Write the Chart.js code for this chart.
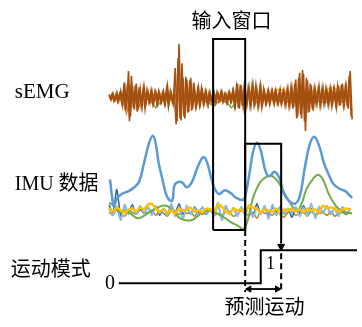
<!DOCTYPE html>
<html><head><meta charset="utf-8">
<script src="https://cdn.jsdelivr.net/npm/chart.js@4"></script>
<style>html,body{margin:0;padding:0;background:#fff}canvas{display:block}</style>
</head><body>
<canvas id="c" width="362" height="327"></canvas>
<script>
// ---- sEMG (time start / step, amplitude values) ----
const semgStart = 107, semgStep = 2;
const semgMain = [2,-3,4,-3,5,-4,6,-8,15,-12,27,-20,12,-13,14,-12,8,-10,11,-6,
  6,-5,7,-6,5,-7,4,-5,6,-6,12,-5,4,-6,30,-25,55,-24,20,-22,
  18,-15,20,-12,8,-8,10,-7,6,-6,5,-8,4,-4,5,-5,4,-3,6,-4,
  3,-5,5,-4,7,-8,14,-12,12,-10,8,-7,10,-8,13,-6,8,-9,12,-7,
  5,-6,7,-5,6,-7,5,-6,8,-5,6,-7,9,-8,10,-10,18,-20,25,-22,
  24,-35,17,-15,12,-14,8,-6,11,-7,10,-6,7,-8,9,-6,8,-10,12,-8,
  14,-7,10,-12,27,-23];
const semgStart2 = 108;
const semgMain2 = [-2,3,-4,2,-5,3,-6,9,-14,13,-25,22,-11,12,-15,10,-9,8,-12,7,
  -5,6,-7,5,-6,6,-5,4,-7,8,-10,6,-5,5,-28,40,-22,35,-20,21,
  -16,17,-14,15,-9,7,-8,9,-7,6,-7,5,-5,4,-6,5,-4,5,-5,3,
  -6,4,-5,6,-9,10,-11,13,-9,11,-8,9,-9,11,-7,12,-8,9,-10,8,
  -6,5,-7,6,-5,7,-6,5,-7,6,-8,7,-9,9,-12,14,-22,20,-18,28,
  -25,20,-16,14,-12,9,-7,8,-9,8,-7,9,-6,7,-9,8,-7,11,-9,13,
  -8,11,-10,22,-20];
const semgSubStep = 6;
const semgGreen = [0,-2,1,-3,2,-2,1,-3,-11,-4,-2,1,-3,2,-2,1,-3,-6,-9,-3,
  -5,-11,-3,-2,1,-2,1,-3,-2,-4,-3,-6,-2,-3,-2,-5,-4,-6,-3,-2,-5,-2];
const semgYellow = [2,1,3,0,2,1,3,2,1,4,2,3,1,2,4,1,2,3,1,2,
  4,3,2,1,3,2,1,3,4,8,7,3,2,1,3,6,4,5,10,8,3,2];
const semgOrange = [3,-4,5,-17,6,-12,4,-6,5,-4,3,-5,8,-10,6,-8,5,-6,4,-5,
  3,-4,6,-5,7,-8,4,-6,5,-7,6,-5,8,-9,7,-8,5,-6,9,-7,6,-4];

// ---- IMU ----
const imuBlueT = [108,110,112,115,120,127,133,138,143,148,152,155,158,162,165,168,172,174,177,182,
  187,192,197,202,205,208,212,215,220,226,232,238,245,248,252,255,259,263,267,270,
  273,277,282,287,292,298,303,308,313,318,323,328,333,338,345,350,353,357];
const imuBlueV = [32,15,4,12,17,20,24,30,49,69,77,69,49,32,19,12,10,25,29,29,
  24,29,42,53,55,49,34,24,17,21,18,13,11,19,42,60,70,62,44,36,
  36,40,34,17,10,7,14,42,67,76,67,49,37,27,22,20,17,13];
const imuGreenT = [107,112,118,124,130,136,142,148,155,162,168,174,180,186,192,198,203,210,216,222,
  228,234,240,245,249,252,255,260,265,272,277,282,288,295,300,305,310,317,322,327,
  333,340,347,357];
const imuGreenV = [8,5,-2,0,-4,-8,-6,-2,2,5,4,-2,-8,-10,-10,-6,-2,0,-2,-5,
  -9,-13,-16,-19,-12,0,13,25,32,36,34,28,17,5,-1,7,22,33,37,32,
  17,5,-1,-3];
const noiseStart = 107, noiseStep = 4;
const imuYellow = [2,-1,3,0,-2,1,2,-1,3,1,6,7,2,-1,1,-2,0,-3,2,0,
  1,3,-1,0,-2,2,1,-1,6,4,-1,-3,2,0,1,-2,5,3,2,-2,
  1,0,-1,2,-3,1,0,2,-1,1,-2,2,0,1,-2,5,3,3,2,-1,1,2,1];
const imuLightBlue = [3,-5,4,-10,6,-4,3,-4,5,-3,4,-5,5,-3,2,-5,7,-6,3,-9,
  5,-4,3,-5,4,-3,2,-6,8,-10,5,-4,3,-6,4,-5,6,-7,3,-4,
  5,-9,6,-5,3,-4,2,-3,4,-6,3,-5,7,-8,4,-3,5,-4,3,-6,4,-3,2];
const imuDarkBlue = [6,-3,22,-6,4,-2,6,-4,2,-3,3,-2,4,-5,2,-3,5,-2,7,-4,
  2,-3,4,-2,3,-4,2,-3,5,-7,3,-2,2,-5,3,-2,4,-5,7,-3,
  2,-5,3,-2,4,-3,2,-7,3,-2,5,-3,2,-6,3,-2,4,-3,2,-5,3,-4,2];
const imuGold = [-2,-5,1,-3,-6,0,-2,-4,1,-3,-2,0,-5,-1,-3,-6,0,-2,-4,1,
  -3,-2,-6,-1,-4,-2,0,-5,-3,-7,-1,-2,-6,-4,0,-3,-5,-2,-8,-1,
  -3,-2,-5,0,-4,-7,-2,-1,-5,-3,-2,-6,-1,-4,-3,-2,-5,-1,-6,-3,-2,-4,-1];

// ---- motion mode (step) ----
const modeT = [117,263,263,362];
const modeV = [0,0,1,1];

// ---- diagram windows ----
const inputWinT = [214,247];   // input window time span
const inputWinY = [35,232];
const predWinT = [247,284];    // prediction window
const predWinTop = 143;
const predArrowEnd = 250;
const dashLow = 296;
const arrowY = 293;

// ---- labels ----
const labelText = ['输入窗口','sEMG','IMU 数据','运动模式','0','1','预测运动'];
const labelX = [233,10,10,6,108,273,267];
const labelY = [16,90,185,272,288,267,311];
const labelAlign = ['center','left','left','left','center','center','center'];
const labelFont = [
 '20px "Noto Sans CJK SC"',
 '21px "Liberation Serif"',
 '20px "Liberation Serif","Noto Sans CJK SC"',
 '20px "Noto Sans CJK SC"',
 '20px "Liberation Serif"',
 '18px "Liberation Serif"',
 '20px "Noto Sans CJK SC"'];

const seq = (start, step, arr) => arr.map((v,i)=>({x:start+i*step,y:v}));
const pair = (ts, vs) => ts.map((t,i)=>({x:t,y:vs[i]}));

const sig = (data, color, w, axis, extra) => Object.assign({
  type:'line', data, borderColor:color, borderWidth:w, pointRadius:0,
  yAxisID:axis, tension:0, fill:false}, extra||{});

const layers = [
  // bottom first
  sig(seq(semgStart, semgSubStep, semgGreen), '#70ad47', 1.5, 'yE'),
  sig(seq(semgStart, semgSubStep, semgYellow), '#ffc000', 1.5, 'yE'),
  sig(seq(semgStart, semgSubStep, semgOrange), '#ed7d31', 1.5, 'yE'),
  sig(seq(semgStart2, semgStep, semgMain2), '#a5500f', 1.6, 'yE'),
  sig(seq(semgStart, semgStep, semgMain), '#a5500f', 1.6, 'yE'),
  sig(seq(noiseStart, noiseStep, imuGold), '#b08a10', 1.5, 'yI', {tension:0.2}),
  sig(seq(noiseStart, noiseStep, imuDarkBlue), '#2e5f96', 1.5, 'yI', {tension:0.2}),
  sig(seq(noiseStart, noiseStep, imuLightBlue), '#8fbbe3', 2, 'yI', {tension:0.2}),
  sig(pair(imuGreenT, imuGreenV), '#70ad47', 2, 'yI', {tension:0.4}),
  sig(seq(noiseStart, noiseStep, imuYellow), '#ffc000', 2.5, 'yI', {tension:0.2}),
  sig(pair(imuBlueT, imuBlueV), '#5b9bd5', 2.5, 'yI', {tension:0.4}),
  sig(pair(modeT, modeV), '#000', 2, 'yM'),
  // input window box
  sig([{x:inputWinT[0],y:inputWinY[1]},{x:inputWinT[0],y:inputWinY[0]},{x:inputWinT[1],y:inputWinY[0]},
       {x:inputWinT[1],y:inputWinY[1]},{x:inputWinT[0],y:inputWinY[1]}], '#000', 2, 'yD'),
  // prediction window
  sig([{x:predWinT[0],y:inputWinY[1]},{x:predWinT[0],y:predWinTop},{x:predWinT[1],y:predWinTop},
       {x:predWinT[1],y:predArrowEnd-4}], '#000', 2, 'yD'),
  // dashed guides
  sig([{x:inputWinT[1],y:inputWinY[1]},{x:inputWinT[1],y:dashLow}], '#000', 2, 'yD', {borderDash:[6,4]}),
  sig([{x:predWinT[1],y:predArrowEnd+6},{x:predWinT[1],y:dashLow}], '#000', 2, 'yD', {borderDash:[6,4]}),
  // double arrow line
  sig([{x:predWinT[0]+3,y:arrowY},{x:predWinT[1]-3,y:arrowY}], '#000', 1.8, 'yD'),
  // arrow heads
  {type:'line', data:[{x:predWinT[1],y:predArrowEnd-1}], showLine:false, yAxisID:'yD',
   pointStyle:'triangle', pointRadius:4, pointRotation:180, backgroundColor:'#000', borderColor:'#000', borderWidth:1},
  {type:'line', data:[{x:predWinT[0]+4,y:arrowY}], showLine:false, yAxisID:'yD',
   pointStyle:'triangle', pointRadius:3.5, pointRotation:270, backgroundColor:'#000', borderColor:'#000', borderWidth:1},
  {type:'line', data:[{x:predWinT[1]-4,y:arrowY}], showLine:false, yAxisID:'yD',
   pointStyle:'triangle', pointRadius:3.5, pointRotation:90, backgroundColor:'#000', borderColor:'#000', borderWidth:1}
];
layers.forEach((d,i)=>{ d.order = layers.length - i; });

const textPlugin = {
  id:'labels',
  afterDraw(chart){
    const ctx = chart.ctx, xs = chart.scales.x, ys = chart.scales.yD;
    ctx.save();
    ctx.fillStyle = '#000';
    ctx.textBaseline = 'middle';
    labelText.forEach((t,i)=>{
      ctx.font = labelFont[i];
      ctx.textAlign = labelAlign[i];
      ctx.fillText(t, xs.getPixelForValue(labelX[i]), ys.getPixelForValue(labelY[i]));
    });
    ctx.restore();
  }
};

new Chart(document.getElementById('c'), {
  type:'line',
  data:{datasets:layers},
  options:{
    responsive:false, animation:false, devicePixelRatio:1,
    layout:{padding:0},
    plugins:{legend:{display:false}, tooltip:{enabled:false}},
    elements:{line:{borderCapStyle:'butt', borderJoinStyle:'miter'}},
    scales:{
      x:{type:'linear', min:0, max:362, display:false},
      yE:{type:'linear', min:-232, max:95, display:false},
      yI:{type:'linear', min:-115, max:212, display:false},
      yM:{type:'linear', min:-40/34, max:287/34, display:false},
      yD:{type:'linear', min:0, max:327, reverse:true, display:false}
    }
  },
  plugins:[textPlugin]
});
</script>
</body></html>
